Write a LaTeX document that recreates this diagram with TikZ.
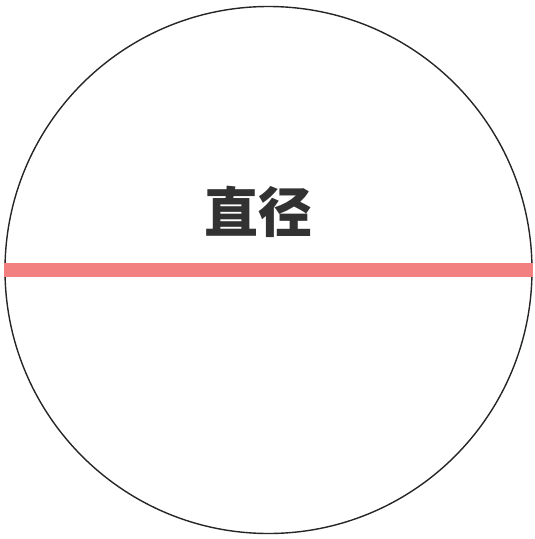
\documentclass[tikz,border=0pt]{standalone}
\usepackage{fontspec}
\newfontfamily\cjk{Noto Sans CJK SC}
\usepackage{tikz}
\usetikzlibrary{positioning}
\definecolor{diamred}{RGB}{242,128,128}
\definecolor{inkgray}{RGB}{50,50,50}
\tikzset{
  rimcircle/.style={draw, circle, line width=1.4pt, minimum size=527pt, inner sep=0pt, color=black!85},
  diamline/.style={line width=14pt, diamred},
  label/.style={font=\cjk\bfseries\fontsize{54}{54}\selectfont, text=inkgray, inner sep=0pt}
}
\begin{document}
\begin{tikzpicture}[x=1pt, y=-1pt]
  \useasboundingbox (0,0) rectangle (535,539);
  \node[rimcircle] (rim) at (268.5,270) {};
  \draw[diamline] (rim.west) -- (rim.east);
  \node[label] (word) at (258,212) {直径};
\end{tikzpicture}
\end{document}
